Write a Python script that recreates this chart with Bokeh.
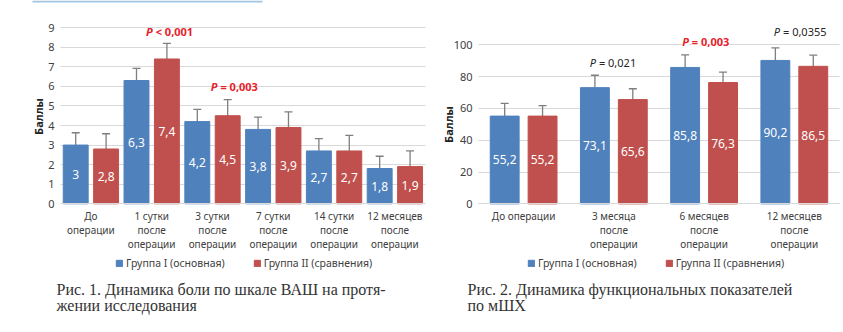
import math
from bokeh.plotting import figure
from bokeh.models import (ColumnDataSource, Range1d, Whisker, TeeHead, Legend,
                          LegendItem, Label, FixedTicker, BoxAnnotation)
from bokeh.transform import dodge
from bokeh.layouts import row
from bokeh.core.properties import value
from bokeh.embed import file_html
from bokeh.resources import INLINE

# ---------------- data ----------------
cats_vas = ["До\nоперации", "1 сутки\nпосле\nоперации", "3 сутки\nпосле\nоперации",
            "7 сутки\nпосле\nоперации", "14 сутки\nпосле\nоперации", "12 месяцев\nпосле\nоперации"]
vas_group1 = [3.0, 6.3, 4.2, 3.8, 2.7, 1.8]
vas_group2 = [2.8, 7.4, 4.5, 3.9, 2.7, 1.9]
vas_err1 = [0.63, 0.62, 0.62, 0.63, 0.63, 0.63]
vas_err2 = [0.78, 0.80, 0.82, 0.80, 0.80, 0.80]
vas_ticks = [0, 1, 2, 3, 4, 5, 6, 7, 8, 9]

cats_mhhs = ["До операции", "3 месяца\nпосле\nоперации", "6 месяцев\nпосле\nоперации",
             "12 месяцев\nпосле\nоперации"]
mhhs_group1 = [55.2, 73.1, 85.8, 90.2]
mhhs_group2 = [55.2, 65.6, 76.3, 86.5]
mhhs_err1 = [8.0, 7.8, 7.9, 7.9]
mhhs_err2 = [6.6, 6.8, 6.6, 7.0]
mhhs_ticks = [0, 20, 40, 60, 80, 100]

series_names = ["Группа I (основная)", "Группа II (сравнения)"]

BLUE = "#4f81bd"
RED = "#c0504d"
PRED = "#e8202a"
GRID = "#d9d9d9"
TXT = "#404040"
FONT = "Noto Sans"
SERIF = "Liberation Serif"


def fmt(v):
    return f"{v:g}".replace(".", ",")


def make_chart(cats, a, b, ea, eb, ticks, xr, yr, width, bar_w, off, leg_x, ylab_xy):
    n = len(cats)
    src = ColumnDataSource(dict(
        idx=list(range(n)), a=a, b=b,
        a_mid=[v / 2 for v in a], b_mid=[v / 2 for v in b],
        a_lbl=[fmt(v) for v in a], b_lbl=[fmt(v) for v in b],
        a_up=[v + e for v, e in zip(a, ea)], a_lo=[v - e for v, e in zip(a, ea)],
        b_up=[v + e for v, e in zip(b, eb)], b_lo=[v - e for v, e in zip(b, eb)],
    ))
    p = figure(x_range=Range1d(*xr), y_range=Range1d(*yr), width=width, height=332,
               output_backend="svg", toolbar_location=None, min_border=0)
    p.outline_line_color = None
    p.background_fill_color = "white"
    p.xgrid.grid_line_color = None
    yt = FixedTicker(ticks=ticks)
    p.ygrid.ticker = yt
    p.ygrid.grid_line_color = GRID
    if "cross_bounds" in p.ygrid[0].properties():
        p.ygrid.cross_bounds = (-0.5, n - 0.5)

    ya = p.yaxis[0]
    ya.ticker = yt
    ya.fixed_location = -0.5
    ya.bounds = (ticks[0], ticks[-1])
    ya.axis_line_color = None
    ya.major_tick_line_color = None
    ya.major_tick_out = 0
    ya.major_tick_in = 0
    ya.minor_tick_line_color = None
    ya.minor_tick_out = 0
    ya.minor_tick_in = 0
    ya.major_label_text_font = FONT
    ya.major_label_text_font_size = "11px"
    ya.major_label_text_color = TXT
    ya.major_label_standoff = 6

    xa_ = p.xaxis[0]
    xa_.ticker = FixedTicker(ticks=list(range(n)))
    xa_.major_label_overrides = {i: c for i, c in enumerate(cats)}
    xa_.fixed_location = 0
    xa_.bounds = (-0.5, n - 0.5)
    xa_.axis_line_color = GRID
    xa_.axis_line_width = 1
    xa_.major_tick_line_color = None
    xa_.major_tick_out = 0
    xa_.major_tick_in = 0
    xa_.minor_tick_line_color = None
    xa_.minor_tick_out = 0
    xa_.minor_tick_in = 0
    xa_.major_label_text_font = FONT
    xa_.major_label_text_font_size = "10px"
    xa_.major_label_text_color = TXT
    xa_.major_label_text_line_height = 1.02
    xa_.major_label_standoff = 5

    p.add_layout(Label(x=ylab_xy[0], y=ylab_xy[1], x_units="screen", y_units="screen",
                       text="Баллы", angle=math.pi / 2, text_align="center",
                       text_baseline="middle", text_font=FONT, text_font_size="11px",
                       text_font_style="bold", text_color="#222222"))

    xa = dodge("idx", -off)
    xb = dodge("idx", off)
    ra = p.vbar(x=xa, top="a", width=bar_w, source=src, fill_color=BLUE, line_color=BLUE)
    rb = p.vbar(x=xb, top="b", width=bar_w, source=src, fill_color=RED, line_color=RED)
    for base, up, lo in ((xa, "a_up", "a_lo"), (xb, "b_up", "b_lo")):
        w = Whisker(source=src, base=base, upper=up, lower=lo, line_color="#7f7f7f", line_width=1.3,
                    upper_head=TeeHead(size=8, line_color="#7f7f7f", line_width=1.3),
                    lower_head=TeeHead(size=8, line_color="#7f7f7f", line_width=1.3))
        p.add_layout(w)
    for x, y, t in ((xa, "a_mid", "a_lbl"), (xb, "b_mid", "b_lbl")):
        p.text(x=x, y=y, text=t, source=src, text_color="white", text_font=value(FONT),
               text_font_size="12px", text_align="center", text_baseline="middle")

    legend = Legend(items=[LegendItem(label=series_names[0], renderers=[ra]),
                           LegendItem(label=series_names[1], renderers=[rb])],
                    orientation="horizontal", location=(leg_x, 62),
                    border_line_color=None, background_fill_alpha=0,
                    label_text_font=FONT, label_text_font_size="10.5px", label_text_color=TXT,
                    glyph_width=8, glyph_height=8, label_standoff=3, spacing=28,
                    padding=0, margin=0, label_height=12)
    p.add_layout(legend)
    return p


def plabel(p, x, y, rest, color, bold, dx=4, bg=None):
    style = "bold" if bold else "normal"
    p.add_layout(Label(x=x, y=y, text="P", text_align="right", text_baseline="middle",
                       text_font=FONT, text_font_size="11px",
                       text_font_style="bold italic" if bold else "italic",
                       text_color=color, x_offset=1, background_fill_color=bg))
    p.add_layout(Label(x=x, y=y, text=rest, text_align="left", text_baseline="middle",
                       text_font=FONT, text_font_size="11px", text_font_style=style,
                       text_color=color, x_offset=dx, background_fill_color=bg))


def caption(p, x, lines):
    for i, t in enumerate(lines):
        p.add_layout(Label(x=x, y=43 - 16 * i, x_units="screen", y_units="screen", text=t,
                           text_align="left", text_baseline="middle", text_font=SERIF,
                           text_font_size="16px", text_color="#333333"))


# chart 1: 60.8 px per category, 19.56 px per point, first category centre at x=90.4, zero at y=203.3
p1 = make_chart(cats_vas, vas_group1, vas_group2, vas_err1, vas_err2, vas_ticks,
                (-1.487, 5.586), (-6.58, 10.39), 430, 0.41, 0.25, 115, (38, 216))
plabel(p1, 1.0, 8.78, "< 0,001", PRED, True)
plabel(p1, 2.065, 6.0, "= 0,003", PRED, True)
caption(p1, 56, ["Рис. 1. Динамика боли по шкале ВАШ на протя-", "жении исследования"])
p1.add_layout(BoxAnnotation(left=32, right=262, bottom=330, top=332, left_units="screen",
                            right_units="screen", top_units="screen", bottom_units="screen",
                            fill_color="#a3c4de", fill_alpha=1, line_color=None))

# chart 2: 90.25 px per category, 1.59 px per point
p2 = make_chart(cats_mhhs, mhhs_group1, mhhs_group2, mhhs_err1, mhhs_err2, mhhs_ticks,
                (-1.032, 3.545), (-80.9, 127.9), 413, 0.32, 0.21, 97, (18, 208))
plabel(p2, 0.79, 88.9, "= 0,021", "#262626", False)
plabel(p2, 1.82, 102, "= 0,003", PRED, True, bg="white")
plabel(p2, 2.83, 108.4, "= 0,0355", "#262626", False)
caption(p2, 37, ["Рис. 2. Динамика функциональных показателей", "по мШХ"])

layout = row(p1, p2)
open("out.html", "w").write(file_html(layout, INLINE))
